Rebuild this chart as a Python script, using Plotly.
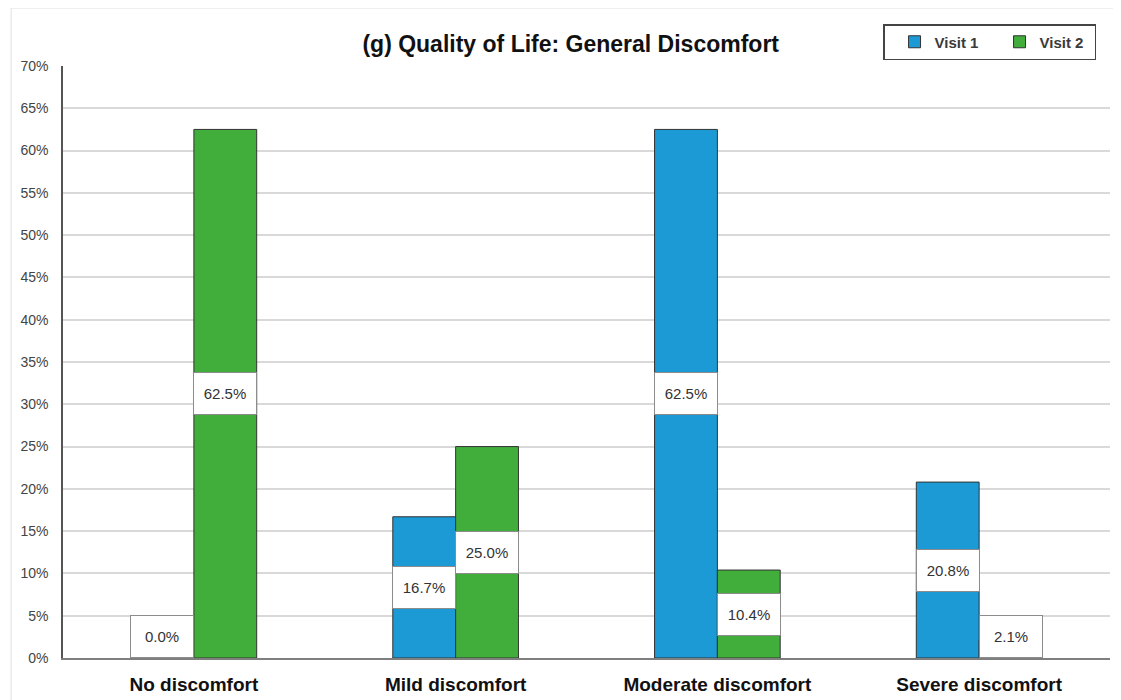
import plotly.graph_objects as go

categories = ["No discomfort", "Mild discomfort", "Moderate discomfort", "Severe discomfort"]
visit1 = [0.0, 16.7, 62.5, 20.8]
visit2 = [62.5, 25.0, 10.4, 2.1]
yticks = list(range(0, 75, 5))
ytick_labels = [f"{t}%" for t in yticks]

blue = "#1B9AD6"
green = "#41AD3B"

fig = go.Figure()
fig.add_trace(go.Bar(name="<b>Visit 1</b>", x=categories, y=visit1,
                     marker=dict(color=blue, line=dict(color="#333333", width=1)), offsetgroup=0))
fig.add_trace(go.Bar(name="<b>Visit 2</b>", x=categories, y=visit2,
                     marker=dict(color=green, line=dict(color="#333333", width=1)), offsetgroup=1))

bargap = 0.52
half = (1 - bargap) / 4  # half width of one bar in category units
min_center = 2.5
for i, cat in enumerate(categories):
    for j, vals in enumerate([visit1, visit2]):
        v = vals[i]
        xc = i + (-half if j == 0 else half)
        yc = max(v / 2, min_center)
        fig.add_annotation(x=xc, y=yc, xref="x", yref="y", text=f"{v:.1f}%", showarrow=False,
                           font=dict(family="Arial", size=15, color="#333333"),
                           bgcolor="white", bordercolor="#8c8c8c", borderwidth=1,
                           width=58, height=37, borderpad=2)

L, R, T, B = 52, 19, 58, 50
PW, PH = 1121 - L - R, 700 - T - B

fig.update_layout(
    width=1121, height=700,
    margin=dict(l=L, r=R, t=T, b=B),
    paper_bgcolor="white", plot_bgcolor="white",
    barmode="group", bargap=bargap, bargroupgap=0,
    title=dict(text="<b>(g) Quality of Life: General Discomfort</b>", x=0.502, xanchor="center",
               y=1 - 36 / 700, yanchor="middle", yref="container",
               font=dict(family="Arial", size=23, color="#111111")),
    legend=dict(orientation="h", x=1 - 14 / PW, xanchor="right", y=1 + 42 / PH, yanchor="top",
                bordercolor="#444444", borderwidth=1.5, bgcolor="white",
                font=dict(family="Liberation Sans", size=15, color="#3a3a3a"),
                itemwidth=30, traceorder="normal", entrywidth=50, indentation=10),
    xaxis=dict(type="category", range=[-0.5, 3.5], showgrid=False, showline=True, linecolor="#7f7f7f",
               linewidth=1.5, ticks="", tickprefix="<b>", ticksuffix="</b>", ticklabelstandoff=8,
               tickfont=dict(family="Liberation Sans", size=19, color="#111111")),
    yaxis=dict(range=[0, 70], tickvals=yticks, ticktext=ytick_labels, showgrid=True, gridcolor="#d9d9d9",
               gridwidth=1.5, showline=True, linecolor="#555555", linewidth=1.5, ticks="", zeroline=False,
               ticklabelstandoff=10,
               tickfont=dict(family="Liberation Sans", size=14, color="#444444")),
)

fig.add_shape(type="rect", xref="paper", yref="paper", x0=-L / PW, x1=1 + R / PW, y0=-B / PH, y1=1 + T / PH,
              line=dict(color="#e0e0e0", width=1), layer="below")

fig.write_html("out.html")
